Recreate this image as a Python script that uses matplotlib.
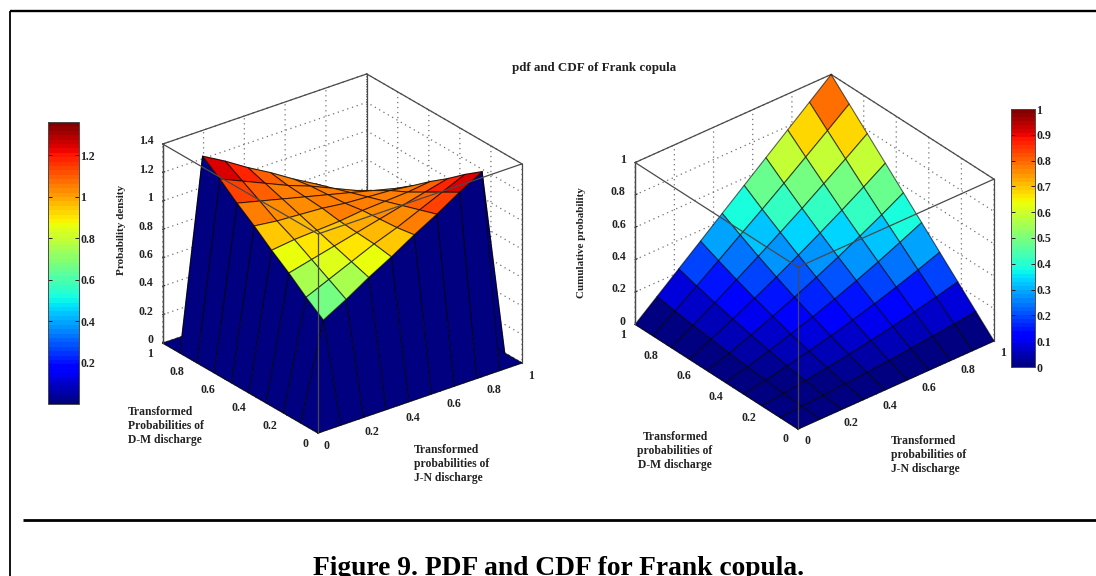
import matplotlib
matplotlib.use("Agg")
import matplotlib.pyplot as plt
from matplotlib.colors import Normalize
from matplotlib.cm import ScalarMappable
from matplotlib.transforms import ScaledTranslation
from mpl_toolkits.mplot3d import proj3d
import numpy as np

grid_j_n = [0, 0.111, 0.222, 0.333, 0.444, 0.556, 0.667, 0.778, 0.889, 1]
grid_d_m = [0, 0.111, 0.222, 0.333, 0.444, 0.556, 0.667, 0.778, 0.889, 1]

pdf_values = [
    [0, 0, 0, 0, 0, 0, 0, 0, 0, 0],
    [0, 0.67, 0.76, 0.86, 0.95, 1.05, 1.14, 1.24, 1.33, 0],
    [0, 0.76, 0.83, 0.90, 0.97, 1.03, 1.10, 1.17, 1.24, 0],
    [0, 0.86, 0.90, 0.94, 0.98, 1.02, 1.06, 1.10, 1.14, 0],
    [0, 0.95, 0.97, 0.98, 0.99, 1.01, 1.02, 1.03, 1.05, 0],
    [0, 1.05, 1.03, 1.02, 1.01, 0.99, 0.98, 0.97, 0.95, 0],
    [0, 1.14, 1.10, 1.06, 1.02, 0.98, 0.94, 0.90, 0.86, 0],
    [0, 1.24, 1.17, 1.10, 1.03, 0.97, 0.90, 0.83, 0.76, 0],
    [0, 1.33, 1.24, 1.14, 1.05, 0.95, 0.86, 0.76, 0.67, 0],
    [0, 0, 0, 0, 0, 0, 0, 0, 0, 0],
]
cdf_values = [
    [0, 0, 0, 0, 0, 0, 0, 0, 0, 0],
    [0, 0.007, 0.015, 0.025, 0.036, 0.048, 0.062, 0.077, 0.093, 0.111],
    [0, 0.015, 0.033, 0.053, 0.075, 0.100, 0.127, 0.156, 0.188, 0.222],
    [0, 0.025, 0.053, 0.084, 0.118, 0.155, 0.195, 0.238, 0.284, 0.333],
    [0, 0.036, 0.075, 0.118, 0.164, 0.213, 0.266, 0.322, 0.382, 0.444],
    [0, 0.048, 0.100, 0.155, 0.213, 0.275, 0.340, 0.409, 0.480, 0.556],
    [0, 0.062, 0.127, 0.195, 0.266, 0.340, 0.417, 0.497, 0.580, 0.667],
    [0, 0.077, 0.156, 0.238, 0.322, 0.409, 0.497, 0.589, 0.682, 0.778],
    [0, 0.093, 0.188, 0.284, 0.382, 0.480, 0.580, 0.682, 0.785, 0.889],
    [0, 0.111, 0.222, 0.333, 0.444, 0.556, 0.667, 0.778, 0.889, 1.0],
]

base_ticks = [0, 0.2, 0.4, 0.6, 0.8, 1]
base_labels = ["0", "0.2", "0.4", "0.6", "0.8", "1"]
pdf_z_ticks = [0, 0.2, 0.4, 0.6, 0.8, 1, 1.2, 1.4]
pdf_z_labels = ["0", "0.2", "0.4", "0.6", "0.8", "1", "1.2", "1.4"]
pdf_bar_ticks = [0.2, 0.4, 0.6, 0.8, 1, 1.2]
pdf_bar_labels = ["0.2", "0.4", "0.6", "0.8", "1", "1.2"]
cdf_bar_ticks = [0, 0.1, 0.2, 0.3, 0.4, 0.5, 0.6, 0.7, 0.8, 0.9, 1]
cdf_bar_labels = ["0", "0.1", "0.2", "0.3", "0.4", "0.5", "0.6", "0.7", "0.8", "0.9", "1"]

W, H = 1096, 576
SERIF = "Liberation Serif"
plt.rcParams["font.family"] = SERIF
LINE = "#4a4a4a"
GRID = "#707070"
fig = plt.figure(figsize=(W / 100, H / 100), dpi=100, facecolor="white")
cmap = plt.get_cmap("jet", 64)


def fpx(x, y):
    return x / W, 1 - y / H


def to_px(ax, p):
    x, y, _ = proj3d.proj_transform(p[0], p[1], p[2], ax.get_proj())
    d = ax.transData.transform((x, y))
    return np.array([d[0], H - d[1]])


def shift_labels(ax, axis, ha, dx, dy):
    # Axis3D resets tick transforms whenever it fetches its ticks, so the
    # pixel offset is applied again at that point.
    off = ScaledTranslation(dx / 100, -dy / 100, fig.dpi_scale_trans)
    original = axis.get_major_ticks

    def with_offset(numticks=None):
        ticks = original(numticks)
        for tick in ticks:
            tick.label1.set_transform(ax.transData + off)
        return ticks
    axis.get_major_ticks = with_offset
    for tick in axis.get_major_ticks():
        tick.label1.set_ha(ha)
        tick.label1.set_fontweight("bold")


def make_surface(vals, zmax, zticks, zlabels, vmax, elev, azim, aspect, origin, x1,
                 back_colour_floor=None):
    ax = fig.add_axes([0, 0, 0.6, 1], projection="3d", computed_zorder=False)
    ax.patch.set_alpha(0)
    ax.set_proj_type("ortho")
    ax.view_init(elev=elev, azim=azim)
    ax.set_xlim(0, 1)
    ax.set_ylim(0, 1)
    ax.set_zlim(0, zmax)
    ax.set_box_aspect(aspect, zoom=1.0)
    # fit the box to the reference corners
    ax.apply_aspect()
    a, b = to_px(ax, (0, 0, 0)), to_px(ax, (1, 0, 0))
    k = np.hypot(*(np.array(x1) - origin)) / np.hypot(*(b - a))
    ax.set_box_aspect(aspect, zoom=k)
    ax.apply_aspect()
    a = to_px(ax, (0, 0, 0))
    dx, dy = np.array(origin) - a
    pos = ax.get_position(original=True)
    ax.set_position([pos.x0 + dx / W, pos.y0 - dy / H, pos.width, pos.height])

    X, Y = np.meshgrid(grid_j_n, grid_d_m, indexing="ij")
    Z = np.array(vals, dtype=float)
    norm = Normalize(0, vmax)
    colors = cmap(norm(Z))
    for i in range(Z.shape[0] - 1):
        for j in range(Z.shape[1] - 1):
            # a facet touching the floor is a wall: it takes the floor colour
            if Z[i:i + 2, j:j + 2].min() == 0:
                colors[i, j] = cmap(0)
            # the far half of the bowl shows orange in the reference
            elif back_colour_floor is not None and i >= 4 and j >= 4:
                colors[i, j] = cmap(norm(max(Z[i, j], back_colour_floor)))
    ax.plot_surface(X, Y, Z, facecolors=colors, rstride=1, cstride=1,
                    shade=False, edgecolor=(0, 0, 0, 0.6), linewidth=0.8,
                    antialiased=True, zorder=2)

    for axis in (ax.xaxis, ax.yaxis, ax.zaxis):
        axis.set_pane_color((1, 1, 1, 0))
        axis.pane.set_edgecolor((1, 1, 1, 0))
        axis.line.set_color(LINE)
        axis.line.set_linewidth(0.9)
        axis._axinfo["grid"].update(color=GRID, linewidth=0.9, linestyle=(0, (1, 3)))
        axis._axinfo["tick"].update(inward_factor=0.0, outward_factor=0.12)
    ax.set_xticks(base_ticks, base_labels)
    ax.set_yticks(base_ticks, base_labels)
    ax.set_zticks(zticks, zlabels)
    ax.tick_params(labelsize=8.6, pad=0, colors="#222222", width=0.8)
    shift_labels(ax, ax.xaxis, "left", 0, -4)
    shift_labels(ax, ax.yaxis, "right", -2, -5)
    shift_labels(ax, ax.zaxis, "right", 4, -8)

    def seg(p, q, z):
        ax.plot([p[0], q[0]], [p[1], q[1]], [p[2], q[2]], color=LINE, lw=0.9,
                zorder=z, clip_on=False)
    T = zmax
    # far edges stay behind the surface, near edges pass in front of it
    seg((1, 1, 0), (1, 1, T), 1)
    seg((0, 1, T), (1, 1, T), 1)
    seg((1, 0, T), (1, 1, T), 1)
    seg((0, 1, 0), (0, 1, T), 3)
    seg((1, 0, 0), (1, 0, T), 3)
    seg((0, 0, 0), (0, 0, T), 3)
    seg((0, 0, T), (1, 0, T), 3)
    seg((0, 0, T), (0, 1, T), 3)
    return ax


ax1 = make_surface(pdf_values, 1.4, pdf_z_ticks, pdf_z_labels, 1.36,
                   26.5, -127.6, (257, 254, 222), (318, 433), (522, 363),
                   back_colour_floor=1.06)
ax2 = make_surface(cdf_values, 1.0, base_ticks, base_labels, 1.0,
                   32.5, -129.9, (255.6, 254, 192), (798, 429), (994, 341))


def colorbar(x0, y0, x1, y1, vmax, ticks, labels):
    cax = fig.add_axes([x0 / W, 1 - y1 / H, (x1 - x0) / W, (y1 - y0) / H])
    cb = fig.colorbar(ScalarMappable(Normalize(0, vmax), cmap), cax=cax)
    cb.set_ticks(ticks, labels=labels)
    cax.tick_params(direction="in", length=3, width=0.7, left=True, right=True,
                    labelsize=8.6, pad=1, colors="#222222")
    for lab in cax.get_yticklabels():
        lab.set_fontweight("bold")
    cb.outline.set_linewidth(0.7)
    cb.outline.set_edgecolor(LINE)


colorbar(48, 122, 79, 404, 1.36, pdf_bar_ticks, pdf_bar_labels)
colorbar(1011, 109, 1035, 367, 1.0, cdf_bar_ticks, cdf_bar_labels)


def label(x, y, s, **kw):
    fx, fy = fpx(x, y)
    kw.setdefault("fontsize", 8.4)
    kw.setdefault("fontweight", "bold")
    kw.setdefault("color", "#222222")
    kw.setdefault("va", "center")
    fig.text(fx, fy, s, **kw)


label(594, 68, "pdf and CDF of Frank copula", ha="center", fontsize=9.4)
label(121, 230, "Probability density", ha="center", rotation=90, fontsize=8.0)
label(582, 243, "Cumulative probability", ha="center", rotation=90, fontsize=8.0)
label(128, 426, "Transformed\nProbabilities of\nD-M discharge", ha="left", linespacing=1.2)
label(414, 464, "Transformed\nprobabilities of\nJ-N discharge", ha="left", linespacing=1.2)
label(675, 451, "Transformed\nprobabilities of\nD-M discharge", ha="center", linespacing=1.2)
label(891, 455, "Transformed\nprobabilities of\nJ-N discharge", ha="left", linespacing=1.2)
label(559, 575, "Figure 9. PDF and CDF for Frank copula.", ha="center", va="baseline",
      fontsize=19.8, color="black")

# page rules
for xs, ys, lw in [((10, 1096), (11, 11), 1.7), ((10, 10), (11, 576), 1.3),
                   ((23, 1096), (520, 520), 2.0)]:
    fig.add_artist(plt.Line2D([x / W for x in xs], [1 - y / H for y in ys],
                              color="black", lw=lw, solid_capstyle="butt"))

fig.savefig("out.png", dpi=100)
